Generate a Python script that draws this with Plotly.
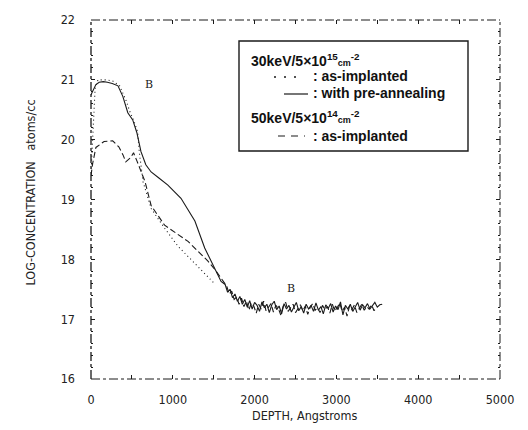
import plotly.graph_objects as go

# ---------------- data ----------------
pre_x = [0, 20, 60, 100, 150, 200, 260, 330, 390, 450, 510, 560, 611, 670, 735, 830, 940,
         1100, 1270, 1390, 1470, 1590,
         1640, 1670, 1700, 1730, 1760, 1790, 1820, 1850, 1880, 1910, 1940, 1970, 2000, 2030,
         2060, 2090, 2120, 2150, 2180, 2210, 2240, 2270, 2300, 2330, 2360, 2390, 2420, 2450,
         2480, 2510, 2540, 2570, 2600, 2630, 2660, 2690, 2720, 2750, 2780, 2810, 2840, 2870,
         2900, 2930, 2960, 2990, 3020, 3050, 3080, 3110, 3140, 3170, 3200, 3230, 3260, 3290,
         3320, 3350, 3380, 3410, 3440, 3470, 3500, 3530, 3560]
pre_y = [20.75, 20.80, 20.92, 20.96, 20.97, 20.96, 20.94, 20.90, 20.72, 20.45, 20.33, 20.12,
         19.80, 19.58, 19.46, 19.36, 19.24, 19.02, 18.64, 18.19, 17.97, 17.63,
         17.58, 17.45, 17.50, 17.36, 17.42, 17.30, 17.38, 17.25, 17.33, 17.20,
         17.31, 17.17, 17.28, 17.23, 17.13, 17.29, 17.19, 17.25, 17.11, 17.24,
         17.30, 17.16, 17.22, 17.09, 17.26, 17.17, 17.23, 17.12, 17.20, 17.28,
         17.14, 17.21, 17.10, 17.25, 17.17, 17.23, 17.13, 17.27, 17.15, 17.21,
         17.09, 17.24, 17.18, 17.26, 17.12, 17.22, 17.16, 17.29, 17.07, 17.23,
         17.17, 17.25, 17.13, 17.21, 17.28, 17.15, 17.24, 17.19, 17.26, 17.17,
         17.22, 17.28, 17.20, 17.24, 17.25]

asimp30_x = [0, 15, 30, 50, 85, 180, 265, 350, 430, 480, 520, 570, 590, 636, 735, 900,
             1063, 1222, 1330, 1420, 1520]
asimp30_y = [19.45, 19.90, 20.50, 20.85, 21.00, 21.00, 20.98, 20.90, 20.65, 20.45, 20.33,
             20.13, 19.80, 19.30, 18.85, 18.52, 18.22, 18.00, 17.85, 17.72, 17.58]

asimp50_x = [0, 20, 60, 160, 265, 340, 390, 425, 485, 520, 560, 610, 660, 735, 900, 1186,
             1430, 1520, 1620,
             1660, 1690, 1720, 1750, 1780, 1810, 1840, 1870, 1900, 1930, 1960, 1990, 2020,
             2050, 2080, 2110, 2140, 2170, 2200, 2230, 2260, 2290, 2320, 2350, 2380, 2410,
             2440, 2470, 2500, 2530, 2560, 2590, 2620, 2650, 2680, 2710, 2740, 2770, 2800,
             2830, 2860, 2890, 2920, 2950, 2980, 3010, 3040, 3070, 3100, 3130, 3160, 3190,
             3220, 3250, 3280, 3310, 3340, 3370, 3400, 3430, 3460, 3490]
asimp50_y = [19.40, 19.60, 19.87, 19.97, 19.98, 19.88, 19.75, 19.63, 19.70, 19.78, 19.65,
             19.46, 19.30, 18.90, 18.57, 18.30, 17.97, 17.82, 17.64,
             17.55, 17.42, 17.47, 17.33, 17.37, 17.25, 17.35, 17.21, 17.30, 17.15,
             17.27, 17.22, 17.10, 17.25, 17.17, 17.30, 17.14, 17.20, 17.26, 17.12,
             17.23, 17.18, 17.07, 17.22, 17.28, 17.13, 17.19, 17.25, 17.11, 17.17,
             17.24, 17.14, 17.22, 17.08, 17.20, 17.26, 17.15, 17.19, 17.11, 17.23,
             17.16, 17.21, 17.10, 17.25, 17.14, 17.19, 17.27, 17.13, 17.20, 17.05,
             17.22, 17.16, 17.24, 17.11, 17.19, 17.25, 17.15, 17.21, 17.17, 17.24,
             17.14, 17.20]

x_tickvals = [0, 500, 1000, 1500, 2000, 2500, 3000, 3500, 4000, 4500, 5000]
x_ticktext = ["0", "", "1000", "", "2000", "", "3000", "", "4000", "", "5000"]
y_tickvals = [16, 17, 18, 19, 20, 21, 22]
y_ticktext = ["16", "17", "18", "19", "20", "21", "22"]

marker_labels = ["B", "B"]
marker_x = [709, 2445]
marker_y = [20.93, 17.52]

# ---------------- layout helpers ----------------
W, H = 528, 430
L, R, T, B = 83, 492, 12, 371


def px_x(p):
    return (p - L) / (R - L)


def px_y(p):
    return (B - p) / (B - T)


def pair(xs, ys):
    n = min(len(xs), len(ys))
    return xs[:n], ys[:n]


tick_font = dict(family="DejaVu Sans Condensed, Liberation Sans Narrow, DejaVu Sans",
                 size=12.5, color="#222")
leg_font = dict(family="Liberation Sans, Arial, sans-serif", size=14, color="#111")
INK = "#1a1a1a"

fig = go.Figure()
x1, y1 = pair(pre_x, pre_y)
fig.add_trace(go.Scatter(x=x1, y=y1, mode="lines", name="with pre-annealing",
                         line=dict(color=INK, width=1.1)))
x2, y2 = pair(asimp30_x, asimp30_y)
fig.add_trace(go.Scatter(x=x2, y=y2, mode="lines", name="30keV as-implanted",
                         line=dict(color=INK, width=1.1, dash="1px,3px")))
x3, y3 = pair(asimp50_x, asimp50_y)
fig.add_trace(go.Scatter(x=x3, y=y3, mode="lines", name="50keV as-implanted",
                         line=dict(color=INK, width=1.1, dash="6px,3px")))

fig.update_layout(
    width=W, height=H,
    margin=dict(l=L, r=W - R, t=T, b=H - B, pad=0, autoexpand=False),
    paper_bgcolor="white", plot_bgcolor="white",
    showlegend=False,
    xaxis=dict(range=[0, 5000], tickvals=x_tickvals, ticktext=x_ticktext,
               showgrid=False, zeroline=False, showline=False, automargin=False,
               ticks="inside", ticklen=4, tickcolor=INK, mirror="ticks",
               tickfont=tick_font, ticklabelstandoff=11),
    yaxis=dict(range=[16, 22], tickvals=y_tickvals, ticktext=y_ticktext,
               showgrid=False, zeroline=False, showline=False, automargin=False,
               ticks="inside", ticklen=4, tickcolor=INK, mirror="ticks",
               minor=dict(dtick=0.2, ticks="inside", ticklen=2, tickcolor=INK),
               tickfont=tick_font, ticklabelstandoff=15),
)

shapes = []
# frame
shapes.append(dict(type="line", xref="paper", yref="paper", x0=0, x1=1, y0=1, y1=1,
                   line=dict(color=INK, width=1, dash="dashdot")))
shapes.append(dict(type="line", xref="paper", yref="paper", x0=0, x1=1, y0=0, y1=0,
                   line=dict(color=INK, width=1, dash="dashdot")))
shapes.append(dict(type="line", xref="paper", yref="paper", x0=1, x1=1, y0=0, y1=1,
                   line=dict(color=INK, width=1, dash="dashdot")))
shapes.append(dict(type="line", xref="paper", yref="paper", x0=0, x1=0, y0=0, y1=1,
                   line=dict(color=INK, width=1.3, dash="dashdot")))
# legend box
shapes.append(dict(type="rect", xref="paper", yref="paper",
                   x0=px_x(231), x1=px_x(460), y0=px_y(143), y1=px_y(33),
                   line=dict(color=INK, width=1.4), fillcolor="white", layer="above"))
# legend samples
shapes.append(dict(type="line", xref="paper", yref="paper", x0=px_x(266), x1=px_x(288),
                   y0=px_y(69), y1=px_y(69), line=dict(color=INK, width=1.5, dash="2px,8px"),
                   layer="above"))
shapes.append(dict(type="line", xref="paper", yref="paper", x0=px_x(276), x1=px_x(300),
                   y0=px_y(86), y1=px_y(86), line=dict(color=INK, width=1.2),
                   layer="above"))
shapes.append(dict(type="line", xref="paper", yref="paper", x0=px_x(270), x1=px_x(297),
                   y0=px_y(128), y1=px_y(128), line=dict(color=INK, width=1.2, dash="7px,6px"),
                   layer="above"))
fig.update_layout(shapes=shapes)

ann = []
small = "<span style='font-size:9px'>"
ann.append(dict(text="<b>30keV/5×10<sup>15</sup>" + small + "cm</span><sup>-2</sup></b>",
                x=px_x(241), y=px_y(52)))
ann.append(dict(text="<b>: as-implanted</b>", x=px_x(303), y=px_y(68)))
ann.append(dict(text="<b>: with pre-annealing</b>", x=px_x(303), y=px_y(85)))
ann.append(dict(text="<b>50keV/5×10<sup>14</sup>" + small + "cm</span><sup>-2</sup></b>",
                x=px_x(241), y=px_y(109)))
ann.append(dict(text="<b>: as-implanted</b>", x=px_x(303), y=px_y(128)))
for a in ann:
    a.update(xref="paper", yref="paper", xanchor="left", yanchor="middle",
             showarrow=False, font=leg_font)
for lab, mx, my in zip(marker_labels, marker_x, marker_y):
    ann.append(dict(text=lab, x=mx, y=my, xref="x", yref="y", showarrow=False,
                    font=dict(family="DejaVu Serif, serif", size=11, color=INK)))
ann.append(dict(text="DEPTH, Angstroms", x=px_x(296), y=px_y(417), xref="paper",
                yref="paper", showarrow=False, font=tick_font))
ann.append(dict(text="LOG-CONCENTRATION   atoms/cc", x=px_x(12), y=px_y(185),
                xref="paper", yref="paper", showarrow=False, textangle=-90,
                font=tick_font))
fig.update_layout(annotations=ann)

fig.write_html("out.html")
